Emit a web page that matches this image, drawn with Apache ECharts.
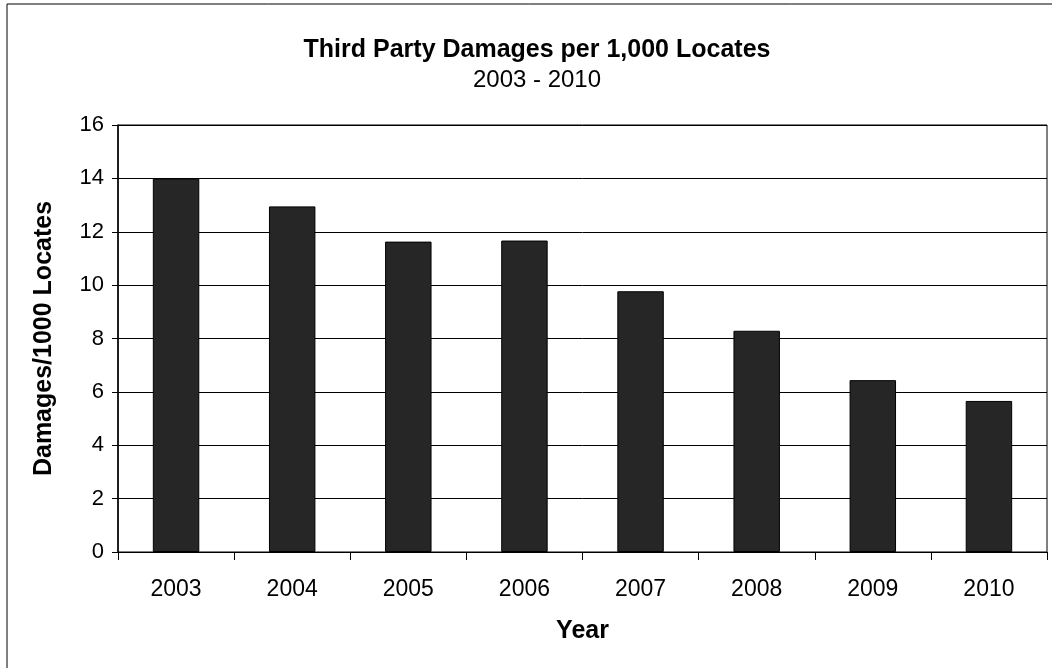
<!DOCTYPE html>
<html>
<head>
<meta charset="utf-8">
<style>
  html, body { margin: 0; padding: 0; background: #fff; }
  #chart { width: 1052px; height: 668px; }
</style>
<script src="https://cdn.jsdelivr.net/npm/echarts@6/dist/echarts.min.js"></script>
</head>
<body>
<div id="chart"></div>
<script>
// Third party damages per 1,000 locates, by year
const years = ['2003', '2004', '2005', '2006', '2007', '2008', '2009', '2010'];
const damagesPer1000 = [14.0, 12.95, 11.63, 11.67, 9.77, 8.29, 6.44, 5.66];
const yTicks = { min: 0, max: 16, interval: 2 };

const font = '"Liberation Sans", Arial, sans-serif';
const chart = echarts.init(document.getElementById('chart'));

chart.setOption({
  backgroundColor: '#ffffff',
  animation: false,
  title: {
    text: 'Third Party Damages per 1,000 Locates',
    subtext: '2003 - 2010',
    left: 532,
    textAlign: 'center',
    top: 33,
    itemGap: 5,
    textStyle: { fontFamily: font, fontSize: 25, fontWeight: 'bold', color: '#000' },
    subtextStyle: { fontFamily: font, fontSize: 24, color: '#000' }
  },
  grid: {
    left: 118, right: 5, top: 125, bottom: 116,
    show: true, borderColor: '#000', borderWidth: 1
  },
  xAxis: {
    type: 'category',
    data: years,
    name: 'Year',
    nameLocation: 'middle',
    nameGap: 67,
    nameTextStyle: { fontFamily: font, fontSize: 25, fontWeight: 'bold', color: '#000' },
    axisLine: { lineStyle: { color: '#000', width: 1 } },
    axisTick: { show: true, length: 8, lineStyle: { color: '#000' } },
    axisLabel: { fontFamily: font, fontSize: 23, color: '#000', margin: 26 }
  },
  yAxis: {
    type: 'value',
    min: yTicks.min, max: yTicks.max, interval: yTicks.interval,
    name: 'Damages/1000 Locates',
    nameLocation: 'middle',
    nameGap: 61,
    nameTextStyle: { fontFamily: font, fontSize: 25, fontWeight: 'bold', color: '#000' },
    axisLine: { show: true, lineStyle: { color: '#000', width: 1.5 } },
    axisTick: { show: true, length: 6, lineStyle: { color: '#000' } },
    axisLabel: { fontFamily: font, fontSize: 22, color: '#000', margin: 14 },
    splitLine: { show: true, lineStyle: { color: '#000', width: 1 } }
  },
  series: [{
    type: 'bar',
    data: damagesPer1000,
    barWidth: '40%',
    itemStyle: { color: '#262626', borderColor: '#000', borderWidth: 1 }
  }],
  graphic: [
    { type: 'line', shape: { x1: 7, y1: 4, x2: 7, y2: 668 }, style: { stroke: '#000', lineWidth: 1 } },
    { type: 'line', shape: { x1: 7, y1: 4, x2: 1052, y2: 4 }, style: { stroke: '#000', lineWidth: 1 } }
  ]
});
</script>
</body>
</html>
